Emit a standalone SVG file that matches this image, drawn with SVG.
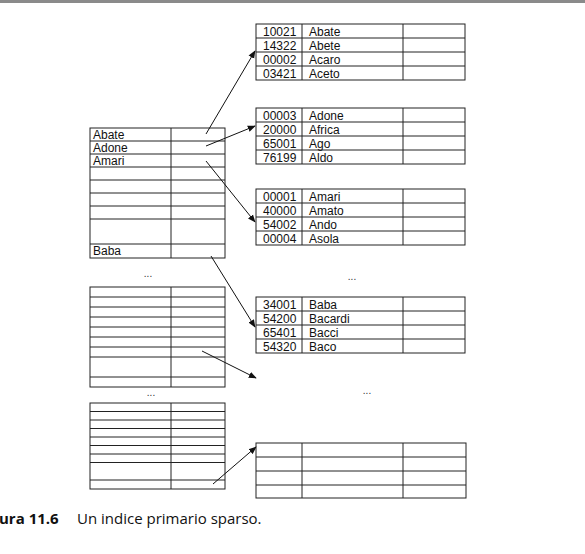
<svg xmlns="http://www.w3.org/2000/svg" width="585" height="554" viewBox="0 0 585 554">
<defs>
<style>
.t{font-family:"Liberation Sans",Arial,sans-serif;font-size:12px;fill:#111}
.g{fill:none;stroke:#222;stroke-width:1}
.c{stroke:#111;stroke-width:1;fill:none}
.d{font-family:"Liberation Sans",Arial,sans-serif;font-size:10px;fill:#333}
.cap{font-family:"Open Sans","Noto Sans",sans-serif;font-size:15px;fill:#111}
</style>
<marker id="ah" viewBox="0 0 10 10" refX="9" refY="5" markerWidth="8" markerHeight="8" markerUnits="userSpaceOnUse" orient="auto">
<path d="M0,1 L10,5 L0,9 z" fill="#111"/>
</marker>
</defs>
<rect x="0" y="0" width="585" height="3" fill="#8a8a8a"/>
<rect width="585" height="551" y="3" fill="#fff"/>

<g id="index1">
<rect class="g" x="90" y="128" width="135" height="130"/>
<path class="g" d="M171,128V258M90,141H225M90,154H225M90,167H225M90,180H225M90,193H225M90,206H225M90,219H225M90,244H225"/>
<text class="t" x="93" y="139">Abate</text>
<text class="t" x="93" y="152">Adone</text>
<text class="t" x="93" y="165">Amari</text>
<text class="t" x="93" y="255">Baba</text>
</g>
<text class="d" x="148" y="277" text-anchor="middle">...</text>

<g id="index2">
<rect class="g" x="90" y="287" width="135" height="100"/>
<path class="g" d="M171,287V387M90,297H225M90,307H225M90,317H225M90,327H225M90,337H225M90,347H225M90,357H225M90,377H225"/>
</g>
<text class="d" x="151" y="396" text-anchor="middle">...</text>

<g id="index3">
<rect class="g" x="90" y="403" width="135" height="86"/>
<path class="g" d="M171,403V489M90,411.5H225M90,420H225M90,428.5H225M90,437H225M90,445.5H225M90,454H225M90,462.5H225M90,480H225"/>
</g>

<g id="data1">
<rect class="g" x="256" y="24" width="209" height="56"/>
<path class="g" d="M302,24V80M403,24V80M256,38H465M256,52H465M256,66H465"/>
<text class="t" x="263" y="35.5">10021</text><text class="t" x="309" y="35.5">Abate</text>
<text class="t" x="263" y="49.5">14322</text><text class="t" x="309" y="49.5">Abete</text>
<text class="t" x="263" y="63.5">00002</text><text class="t" x="309" y="63.5">Acaro</text>
<text class="t" x="263" y="77.5">03421</text><text class="t" x="309" y="77.5">Aceto</text>
</g>

<g id="data2">
<rect class="g" x="256" y="108" width="209" height="56"/>
<path class="g" d="M302,108V164M403,108V164M256,122H465M256,136H465M256,150H465"/>
<text class="t" x="263" y="119.5">00003</text><text class="t" x="309" y="119.5">Adone</text>
<text class="t" x="263" y="133.5">20000</text><text class="t" x="309" y="133.5">Africa</text>
<text class="t" x="263" y="147.5">65001</text><text class="t" x="309" y="147.5">Ago</text>
<text class="t" x="263" y="161.5">76199</text><text class="t" x="309" y="161.5">Aldo</text>
</g>

<g id="data3">
<rect class="g" x="256" y="189" width="209" height="56"/>
<path class="g" d="M302,189V245M403,189V245M256,203H465M256,217H465M256,231H465"/>
<text class="t" x="263" y="200.5">00001</text><text class="t" x="309" y="200.5">Amari</text>
<text class="t" x="263" y="214.5">40000</text><text class="t" x="309" y="214.5">Amato</text>
<text class="t" x="263" y="228.5">54002</text><text class="t" x="309" y="228.5">Ando</text>
<text class="t" x="263" y="242.5">00004</text><text class="t" x="309" y="242.5">Asola</text>
</g>
<text class="d" x="352" y="280" text-anchor="middle">...</text>

<g id="data4">
<rect class="g" x="256" y="297" width="209" height="56"/>
<path class="g" d="M302,297V353M403,297V353M256,311H465M256,325H465M256,339H465"/>
<text class="t" x="263" y="308.5">34001</text><text class="t" x="309" y="308.5">Baba</text>
<text class="t" x="263" y="322.5">54200</text><text class="t" x="309" y="322.5">Bacardi</text>
<text class="t" x="263" y="336.5">65401</text><text class="t" x="309" y="336.5">Bacci</text>
<text class="t" x="263" y="350.5">54320</text><text class="t" x="309" y="350.5">Baco</text>
</g>
<text class="d" x="367" y="394" text-anchor="middle">...</text>

<g id="data5">
<rect class="g" x="256" y="443" width="210" height="55"/>
<path class="g" d="M302,443V498M403,443V498M256,457H466M256,471H466M256,485H466"/>
</g>

<g id="connectors">
<line class="c" x1="206" y1="134" x2="255" y2="51" marker-end="url(#ah)"/>
<line class="c" x1="206" y1="146" x2="255" y2="126" marker-end="url(#ah)"/>
<line class="c" x1="206" y1="161" x2="255" y2="222" marker-end="url(#ah)"/>
<line class="c" x1="211" y1="256" x2="255" y2="327" marker-end="url(#ah)"/>
<line class="c" x1="202" y1="351" x2="256" y2="378" marker-end="url(#ah)"/>
<line class="c" x1="213" y1="484" x2="256" y2="447" marker-end="url(#ah)"/>
</g>

<text class="cap" x="-1" y="524"><tspan font-weight="bold">ura 11.6</tspan><tspan x="77">Un indice primario sparso.</tspan></text>
</svg>
